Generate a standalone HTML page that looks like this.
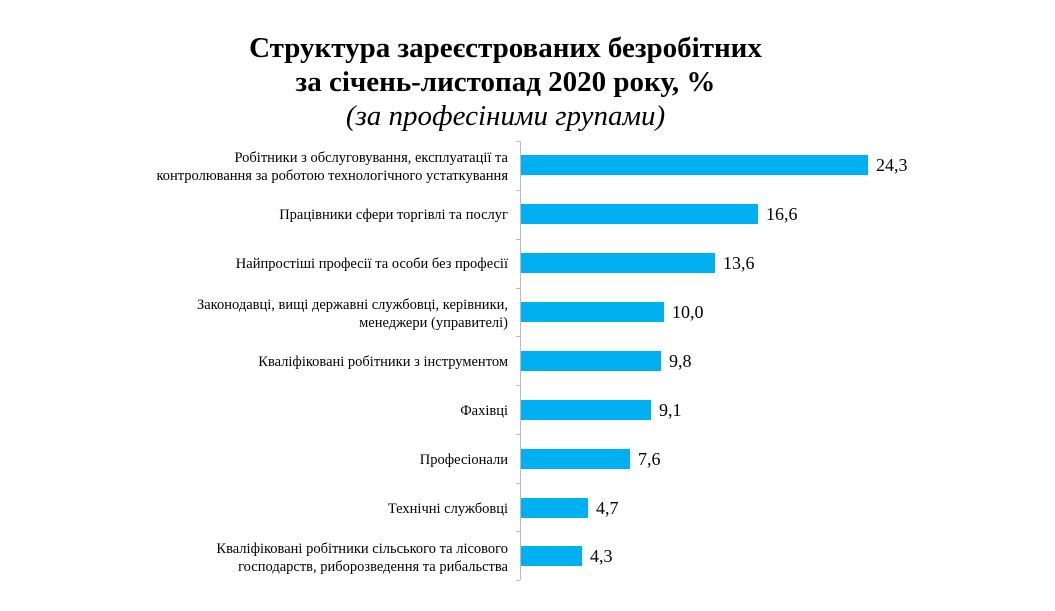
<!DOCTYPE html>
<html><head><meta charset="utf-8"><style>
body{margin:0;background:#fff;width:1055px;height:611px;overflow:hidden;font-family:"Liberation Serif",serif}
.t{position:absolute;left:0;width:1011px;text-align:center;font-size:29px;font-weight:bold;color:#000}
</style></head><body>
<div class="t" style="top:32px">Структура зареєстрованих безробітних</div>
<div class="t" style="top:66px">за січень-листопад 2020 року, %</div>
<div class="t" style="top:100px;font-weight:normal;font-style:italic">(за професіними групами)</div>
<svg width="1055" height="611" style="position:absolute;left:0;top:0" font-family="Liberation Serif, serif">
<line x1="520.5" y1="141" x2="520.5" y2="580" stroke="#bbb"/>
<g stroke="#bbb">
<line x1="516" y1="141.5" x2="520" y2="141.5"/><line x1="516" y1="190.5" x2="520" y2="190.5"/><line x1="516" y1="239.5" x2="520" y2="239.5"/><line x1="516" y1="288.5" x2="520" y2="288.5"/><line x1="516" y1="336.5" x2="520" y2="336.5"/><line x1="516" y1="385.5" x2="520" y2="385.5"/><line x1="516" y1="434.5" x2="520" y2="434.5"/><line x1="516" y1="483.5" x2="520" y2="483.5"/><line x1="516" y1="531.5" x2="520" y2="531.5"/><line x1="516" y1="580.5" x2="520" y2="580.5"/>
</g>
<g fill="#00B0F0">
<rect x="521" y="155" width="347" height="20"/>
<rect x="521" y="204" width="237" height="20"/>
<rect x="521" y="253" width="194" height="20"/>
<rect x="521" y="302" width="143" height="20"/>
<rect x="521" y="351" width="140" height="20"/>
<rect x="521" y="400" width="130" height="20"/>
<rect x="521" y="449" width="109" height="20"/>
<rect x="521" y="498" width="67" height="20"/>
<rect x="521" y="546" width="61" height="20"/>
</g>
<g font-size="18" fill="#000">
<text x="876" y="171">24,3</text>
<text x="766" y="220">16,6</text>
<text x="723" y="269">13,6</text>
<text x="672" y="318">10,0</text>
<text x="669" y="367">9,8</text>
<text x="659" y="416">9,1</text>
<text x="638" y="465">7,6</text>
<text x="596" y="514">4,7</text>
<text x="590" y="562">4,3</text>
</g>
<g font-size="14.5" fill="#000" text-anchor="end">
<text x="508" y="162">Робітники з обслуговування, експлуатації  та</text>
<text x="508" y="180">контролювання  за роботою технологічного устаткування</text>
<text x="508" y="219">Працівники  сфери торгівлі та послуг</text>
<text x="508" y="268">Найпростіші професії та особи без професії</text>
<text x="508" y="309">Законодавці, вищі державні службовці, керівники,</text>
<text x="508" y="327">менеджери (управителі)</text>
<text x="508" y="366">Кваліфіковані робітники з інструментом</text>
<text x="508" y="415">Фахівці</text>
<text x="508" y="464">Професіонали</text>
<text x="508" y="513">Технічні службовці</text>
<text x="508" y="553">Кваліфіковані робітники сільського та лісового</text>
<text x="508" y="571">господарств, риборозведення та рибальства</text>
</g>
</svg>
</body></html>
